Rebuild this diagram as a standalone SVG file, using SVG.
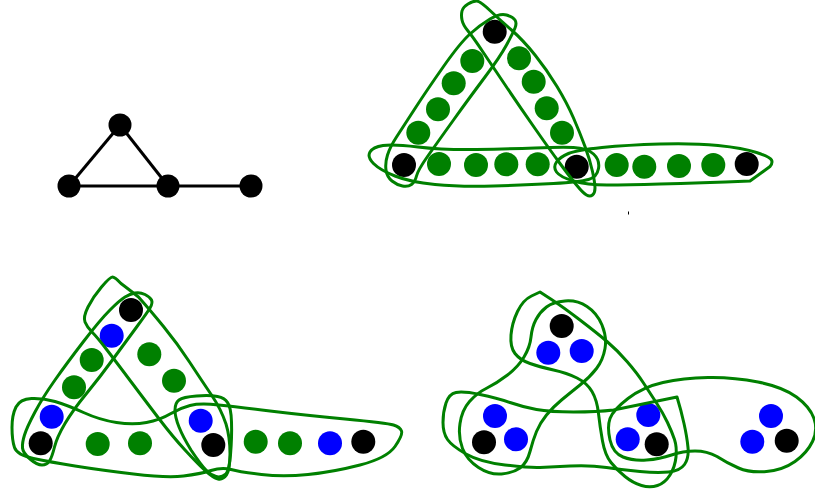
<svg xmlns="http://www.w3.org/2000/svg" width="815" height="492" viewBox="0 0 815 492">
<style>
.k{fill:#000}
.g{fill:#008000}
.b{fill:#0000ff}
.h{fill:none;stroke:#008000;stroke-width:3;stroke-linejoin:round}
.e{stroke:#000;stroke-width:3;fill:none}
</style>
<rect width="815" height="492" fill="#fff"/>
<!-- top-left graph -->
<g id="connectors">
<line class="e" x1="120" y1="125" x2="69" y2="186"/>
<line class="e" x1="120" y1="125" x2="168" y2="186"/>
<line class="e" x1="69" y1="186" x2="251" y2="186"/>
</g>
<g id="graph1">
<circle id="n1" class="k" cx="120" cy="125" r="11.5"/>
<circle id="n2" class="k" cx="69" cy="186" r="11.5"/>
<circle id="n3" class="k" cx="168" cy="186" r="11.5"/>
<circle id="n4" class="k" cx="251" cy="186" r="11.5"/>
</g>
<!-- top-right -->
<g id="graph2">
<g id="g2nodes">
<circle class="k" cx="494.7" cy="31.7" r="12"/>
<circle class="k" cx="404" cy="165" r="12"/>
<circle class="k" cx="576.7" cy="166.7" r="12"/>
<circle class="k" cx="746.7" cy="164" r="12"/>
<circle class="g" cx="472.3" cy="61" r="12"/>
<circle class="g" cx="453.7" cy="83.3" r="12"/>
<circle class="g" cx="438" cy="109.3" r="12"/>
<circle class="g" cx="418.3" cy="132.7" r="12"/>
<circle class="g" cx="439" cy="164" r="12"/>
<circle class="g" cx="476" cy="165" r="12"/>
<circle class="g" cx="506.3" cy="164.3" r="12"/>
<circle class="g" cx="537.7" cy="164.3" r="12"/>
<circle class="g" cx="519" cy="58.3" r="12"/>
<circle class="g" cx="533.7" cy="81.7" r="12"/>
<circle class="g" cx="546.7" cy="108.3" r="12"/>
<circle class="g" cx="562" cy="132.7" r="12"/>
<circle class="g" cx="616.7" cy="165" r="12"/>
<circle class="g" cx="644.3" cy="166.7" r="12"/>
<circle class="g" cx="679" cy="166" r="12"/>
<circle class="g" cx="713.3" cy="165" r="12"/>
</g>
<g id="g2hulls">
<path class="h" d="M506.5,15 Q500,13 490,19 Q480,25 470,34 Q460,43 443.5,66.5 Q427,90 415,108.5 Q403,127 396.5,137 Q390,147 387.5,155 Q385,163 386,170 Q387,177 392,181 Q397,185 402.5,186 Q408,187 411.5,184.5 Q415,182 416.5,176 Q418,170 427.5,156.5 Q437,143 453.5,120 Q470,97 485,77 Q500,57 506.5,45 Q513,33 515,28 Q517,23 515,20 Q513,17 506.5,15 Z"/>
<path class="h" d="M462,11 Q463,7 468,4 Q473,1 476.5,1 Q480,1 490,10.5 Q500,20 511.5,30 Q523,40 535,55 Q547,70 557,86.5 Q567,103 573.5,118 Q580,133 585,146.5 Q590,160 592.5,171.5 Q595,183 595,188 Q595,193 592.5,195 Q590,197 586.5,195 Q583,193 576.5,185 Q570,177 560,163.5 Q550,150 535,128.5 Q520,107 506.5,87 Q493,67 483,52 Q473,37 468,31 Q463,25 462,20 Q461,15 462,11 Z"/>
<path class="h" d="M373.5,163.5 Q367,157 370,152 Q373,147 383,145.5 Q393,144 418,147 Q443,150 476.5,149.5 Q510,149 535,148 Q560,147 573.5,147.5 Q587,148 593.5,154 Q600,160 598.5,168.5 Q597,177 588.5,179.5 Q580,182 553.5,183.5 Q527,185 493.5,186 Q460,187 435,184.5 Q410,182 395,176 Q380,170 373.5,163.5 Z"/>
<path class="h" d="M556.5,172 Q553,167 556.5,162 Q560,157 568.5,153.5 Q577,150 602,147.5 Q627,145 660,144 Q693,143 718,145.5 Q743,148 756.5,152.5 Q770,157 771.5,160 Q773,163 770,166.5 L750,181 Q700,183 660,184 Q627,185 607,185 Q587,185 573.5,181 Q560,177 556.5,172 Z"/>
</g>
<line x1="628.5" y1="211.5" x2="628.5" y2="214.5" stroke="#000" stroke-width="1"/>
</g>
<!-- bottom-left -->
<g id="graph3">
<g id="g3nodes">
<circle class="k" cx="131" cy="310" r="12"/>
<circle class="k" cx="40.7" cy="443.3" r="12"/>
<circle class="k" cx="213.3" cy="445" r="12"/>
<circle class="k" cx="363.3" cy="441.7" r="12"/>
<circle class="b" cx="111.7" cy="335.7" r="12"/>
<circle class="b" cx="51.7" cy="416.7" r="12"/>
<circle class="b" cx="200.7" cy="420.7" r="12"/>
<circle class="b" cx="330" cy="443.3" r="12"/>
<circle class="g" cx="91.7" cy="360" r="12"/>
<circle class="g" cx="74" cy="387.3" r="12"/>
<circle class="g" cx="97.7" cy="444" r="12"/>
<circle class="g" cx="140" cy="443.3" r="12"/>
<circle class="g" cx="149.3" cy="354.3" r="12"/>
<circle class="g" cx="174" cy="380.7" r="12"/>
<circle class="g" cx="255.7" cy="441.7" r="12"/>
<circle class="g" cx="290" cy="443.3" r="12"/>
</g>
<g id="g3hulls">
<path class="h" d="M125,297 Q130,294 135,293 Q140,292 145,294.5 Q150,297 151.5,300 Q153,303 150,308 Q147,313 137,326.5 Q127,340 113.5,358.5 Q100,377 86.5,393.5 Q73,410 65,423.5 Q57,437 54.5,447 Q52,457 49.5,461 Q47,465 42,465 Q37,465 30,459 Q23,453 22.5,448 Q22,443 24.5,435 Q27,427 35,412 Q43,397 55,380 Q67,363 83.5,341.5 Q100,320 110,310 Q120,300 125,297 Z"/>
<path class="h" d="M121,283.5 Q115,277 112.5,277 Q110,277 101.5,287 Q93,297 88,307 Q83,317 85,322 Q87,327 92,332 Q97,337 107,350 Q117,363 132,383 Q147,403 160,420 Q173,437 185,450 Q197,463 205,470.5 Q213,478 218,479 Q223,480 226.5,475 Q230,470 230,453.5 Q230,437 226,424 Q221,409 211.5,395 Q202,381 189.5,362 Q177,343 163.5,326.5 Q150,310 138.5,297 Q127,288 121,283.5 Z"/>
<path class="h" d="M175,410 Q175,403 179,400 Q183,397 196.5,396 Q210,395 217.5,396.5 Q225,398 227.5,402.5 Q231,407 231.5,422 Q232,437 230.5,455 Q229,470 226,474 Q221,478 216,476.5 Q211,475 206,470 Q201,465 191,450 Q183,437 179,427 Q175,417 175,410 Z"/>
<path class="h" d="M16,407 Q20,399 31.5,398.5 Q43,398 55,401.5 Q67,405 83.5,412.5 Q100,420 116.5,422.5 Q133,425 146.5,422.5 Q160,420 170,414 Q180,408 190,405.5 Q200,403 218.5,405 Q237,407 270,411 Q303,415 345,419 Q387,423 393.5,425 Q400,427 401.5,431 Q403,435 395,446.5 Q387,458 360,465 Q333,472 308,474.5 Q283,477 261.5,474.5 Q240,472 231,469.5 Q222,467 211,470.5 Q200,474 183.5,476 Q167,478 133.5,474 Q100,470 75,466 Q50,462 33.5,458.5 Q17,455 14.5,447.5 Q12,440 12,427.5 Q12,415 16,407 Z"/>
</g>
</g>
<!-- bottom-right -->
<g id="graph4">
<g id="g4nodes">
<circle class="k" cx="561.7" cy="326" r="12"/>
<circle class="k" cx="484" cy="442.3" r="12"/>
<circle class="k" cx="656.7" cy="444.3" r="12"/>
<circle class="k" cx="786.7" cy="440.7" r="12"/>
<circle class="b" cx="548.3" cy="352.7" r="12"/>
<circle class="b" cx="581.7" cy="351" r="12"/>
<circle class="b" cx="495" cy="416" r="12"/>
<circle class="b" cx="516" cy="439.3" r="12"/>
<circle class="b" cx="648.3" cy="415" r="12"/>
<circle class="b" cx="627.7" cy="439.3" r="12"/>
<circle class="b" cx="771" cy="416" r="12"/>
<circle class="b" cx="752.3" cy="441.7" r="12"/>
</g>
<g id="g4hulls">
<path class="h" d="M536,319.5 Q540,312 546.5,307 Q553,302 565,301 Q577,300 587,306.5 Q597,313 602,325 Q607,337 605,348.5 Q603,360 596.5,368.5 Q590,377 580,385 Q570,393 561.5,400 Q553,407 546.5,415 Q540,423 536.5,431.5 Q533,440 530,451.5 Q527,463 520,468 Q513,473 501.5,474 Q490,475 478.5,467.5 Q467,460 462.5,448.5 Q458,437 460,423.5 Q462,410 469.5,401.5 Q477,393 487,388 Q497,383 507.5,375 Q518,367 524,357 Q530,347 531,337 Q532,327 536,319.5 Z"/>
<path class="h" d="M540,292 L551.5,299.5 Q563,307 580,320 Q597,333 607,341.5 Q617,350 627,361.5 Q637,373 643.5,383 Q650,393 656.5,403 Q663,413 667.5,422.5 Q672,432 674.5,439.5 Q677,447 676,457 Q675,467 670,475 Q665,483 657.5,485.5 Q650,488 641.5,485.5 Q633,483 625,476.5 Q617,470 611,462.5 Q605,455 602.5,441 Q600,427 598.5,413.5 Q597,400 592,391.5 Q587,383 577,378 Q567,373 553.5,370 Q540,367 530,363.5 Q520,360 515,353.5 Q510,347 511,335 Q512,323 517.5,311.5 Q523,300 531.5,296 L540,292 Z"/>
<path class="h" d="M677,397 Q681,410 684,423.5 Q687,437 688,447.5 Q689,458 684.5,464.5 Q680,471 668.5,472 Q657,473 640,471.5 Q623,470 606.5,467.5 Q590,465 570,466 Q550,467 540,467.5 Q530,468 505,465 Q480,462 466,454 Q452,446 447.5,439.5 Q443,433 443,422.5 Q443,412 446,403 Q449,394 456,392.5 Q463,391 480,394.5 Q497,398 510,402.5 Q523,407 536.5,409.5 Q550,412 573.5,412 Q597,412 613.5,410 L677,397 Z"/>
<path class="h" d="M628,398.5 Q643,387 663,382.5 Q683,378 708,377.5 Q733,377 758,382 Q783,387 796.5,397 Q810,407 814,418.5 Q818,430 812.5,441.5 Q807,453 795,461.5 Q783,470 766.5,471.5 Q750,473 738.5,468 Q727,463 717,456.5 Q707,451 695,451 Q683,451 671.5,455 Q660,459 646.5,460 Q633,461 623,457 Q613,453 610,440 Q607,427 610,418.5 Q613,410 628,398.5 Z"/>
</g>
</g>
</svg>
